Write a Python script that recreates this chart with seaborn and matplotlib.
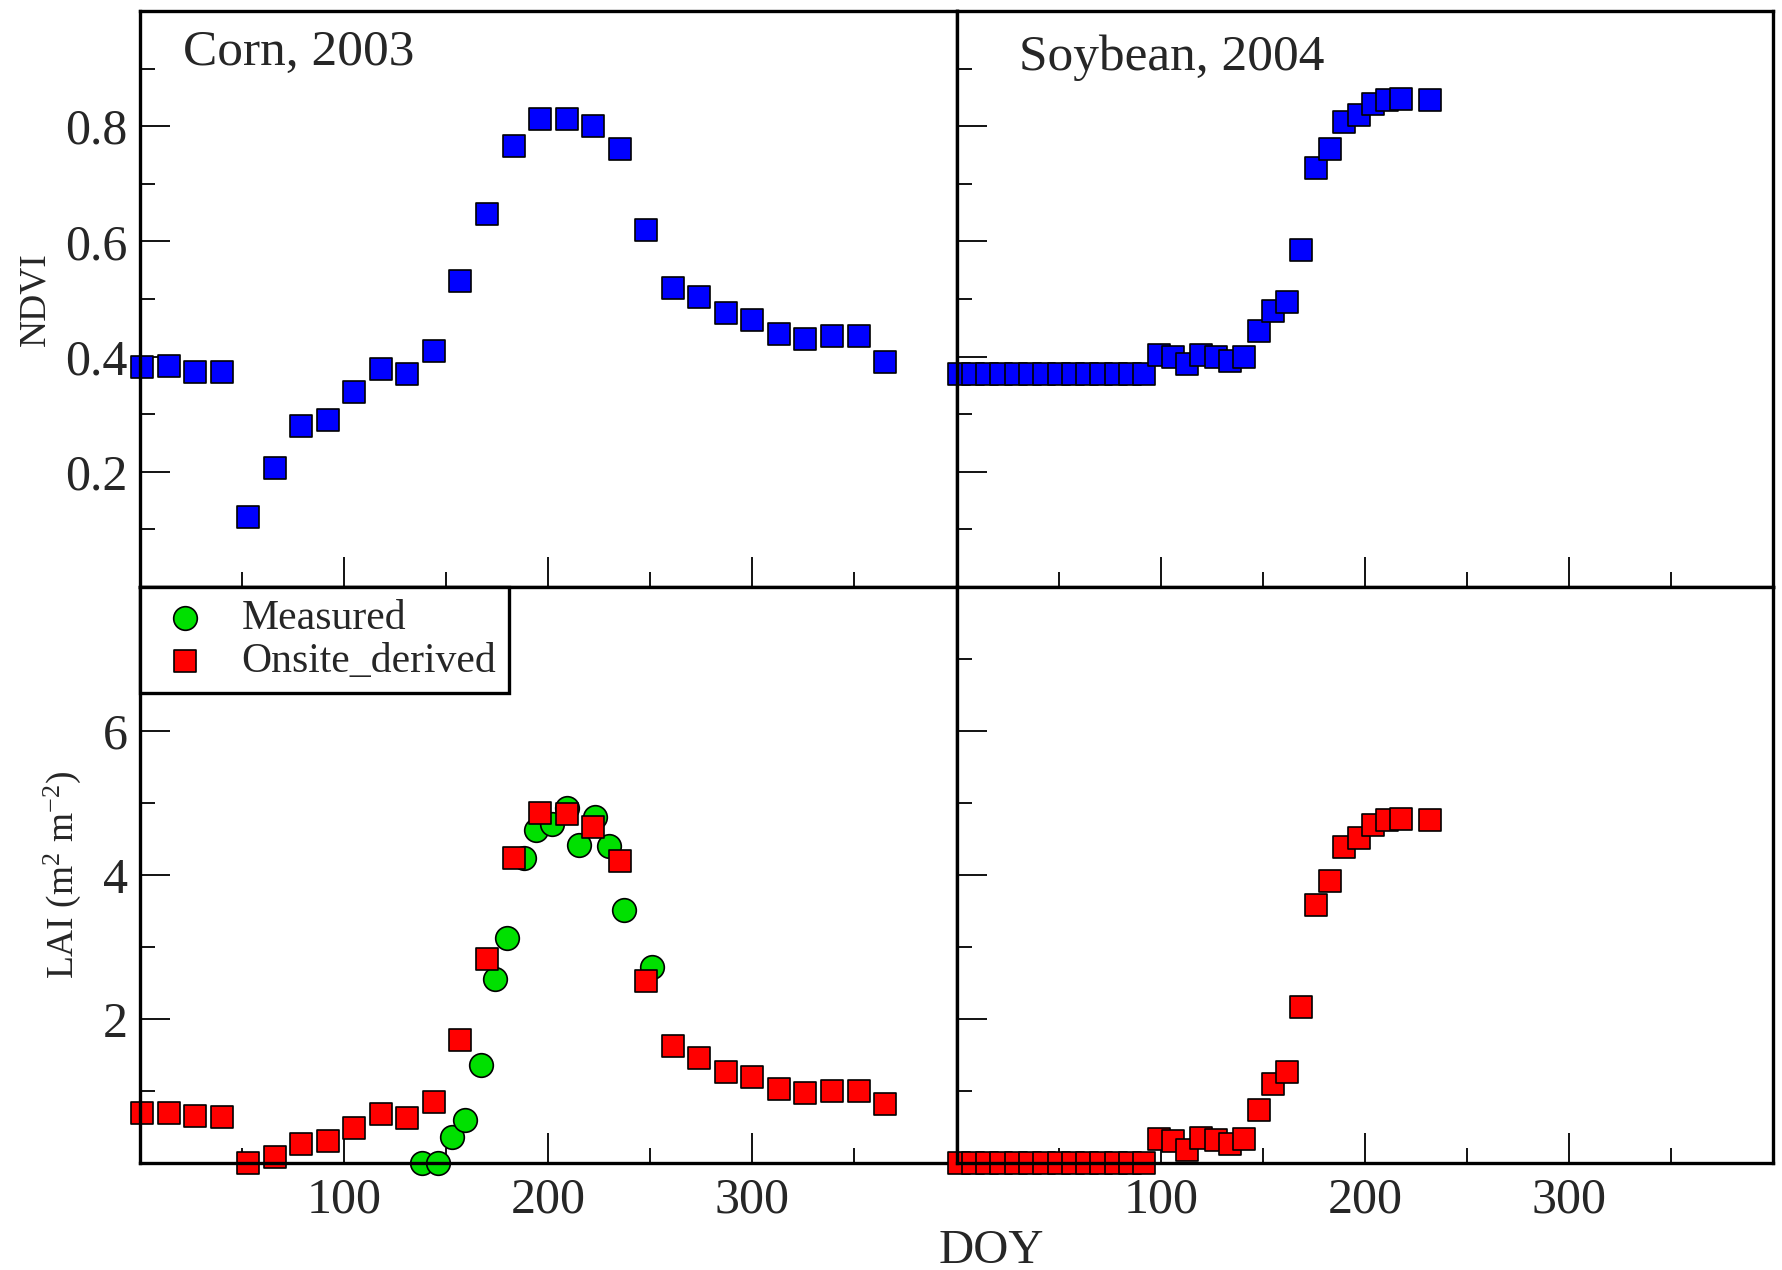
import matplotlib
matplotlib.use("Agg")
import matplotlib.pyplot as plt
import seaborn as sns
import pandas as pd
from matplotlib.ticker import FixedLocator

# ---------------- data ----------------
corn_doy = [1, 14, 27, 40, 53, 66, 79, 92, 105, 118, 131, 144, 157, 170, 183,
            196, 209, 222, 235, 248, 261, 274, 287, 300, 313, 326, 339, 352, 365]
corn_ndvi = [0.382, 0.383, 0.374, 0.374, 0.122, 0.206, 0.279, 0.290, 0.338, 0.378,
             0.369, 0.410, 0.532, 0.648, 0.766, 0.812, 0.812, 0.800, 0.761, 0.619,
             0.519, 0.503, 0.476, 0.464, 0.439, 0.431, 0.436, 0.436, 0.391]
corn_lai_derived = [0.70, 0.70, 0.65, 0.64, 0.00, 0.09, 0.26, 0.30, 0.48, 0.68,
                    0.62, 0.85, 1.71, 2.84, 4.24, 4.86, 4.85, 4.66, 4.19, 2.53,
                    1.62, 1.46, 1.27, 1.20, 1.03, 0.97, 1.00, 1.00, 0.82]
corn_meas_doy = [138, 146, 153, 159, 167, 174, 180, 188, 194, 202, 209, 215,
                 223, 230, 237, 251]
corn_lai_measured = [0.00, 0.00, 0.36, 0.60, 1.36, 2.56, 3.12, 4.24, 4.63, 4.71,
                     4.93, 4.41, 4.80, 4.40, 3.52, 2.72]

soy_doy = [1, 8, 15, 22, 29, 36, 43, 50, 57, 64, 71, 78, 85, 92, 99, 106, 113,
           120, 127, 134, 141, 148, 155, 162, 169, 176, 183, 190, 197, 204, 211,
           218, 232]
soy_ndvi = [0.37, 0.37, 0.37, 0.37, 0.37, 0.37, 0.37, 0.37, 0.37, 0.37, 0.37,
            0.37, 0.37, 0.37, 0.403, 0.400, 0.387, 0.403, 0.400, 0.393, 0.400,
            0.445, 0.480, 0.495, 0.585, 0.727, 0.760, 0.807, 0.820, 0.838, 0.846,
            0.848, 0.845]
soy_lai_derived = [0.0, 0.0, 0.0, 0.0, 0.0, 0.0, 0.0, 0.0, 0.0, 0.0, 0.0, 0.0,
                   0.0, 0.0, 0.34, 0.31, 0.18, 0.35, 0.32, 0.26, 0.33, 0.73, 1.10,
                   1.26, 2.17, 3.59, 3.91, 4.39, 4.51, 4.69, 4.77, 4.78, 4.76]

panel_titles = ["Corn, 2003", "Soybean, 2004"]
x_major = [100, 200, 300]
x_minor = [50, 150, 250, 350]
ndvi_major = [0.2, 0.4, 0.6, 0.8]
ndvi_minor = [0.1, 0.3, 0.5, 0.7, 0.9]
ndvi_labels = ["0.2", "0.4", "0.6", "0.8"]
lai_major = [2, 4, 6]
lai_minor = [1, 3, 5, 7]
lai_labels = ["2", "4", "6"]

# ---------------- style ----------------
sns.set_style("ticks")
plt.rcParams["font.family"] = ["Liberation Serif", "DejaVu Serif"]
plt.rcParams["mathtext.fontset"] = "custom"
plt.rcParams["mathtext.rm"] = "Liberation Serif"
plt.rcParams["mathtext.it"] = "Liberation Serif:italic"
plt.rcParams["axes.linewidth"] = 2.4
plt.rcParams["axes.edgecolor"] = "black"

BLUE = "#0000ff"
RED = "#ff0000"
GREEN = "#00e000"

fig, axes = plt.subplots(2, 2, figsize=(17.82, 12.70), dpi=100)
fig.subplots_adjust(left=140 / 1782, right=1773 / 1782, top=1 - 11 / 1270,
                    bottom=1 - 1163 / 1270, wspace=0, hspace=0)

corn_ndvi_df = pd.DataFrame({"DOY": corn_doy, "NDVI": corn_ndvi})
soy_ndvi_df = pd.DataFrame({"DOY": soy_doy, "NDVI": soy_ndvi})
corn_lai_df = pd.DataFrame({"DOY": corn_doy, "LAI": corn_lai_derived})
corn_meas_df = pd.DataFrame({"DOY": corn_meas_doy, "LAI": corn_lai_measured})
soy_lai_df = pd.DataFrame({"DOY": soy_doy, "LAI": soy_lai_derived})

SQ = 16.5 ** 2
CI = 17.0 ** 2
common = dict(edgecolor="black", linewidth=1.2, clip_on=False)

sns.scatterplot(data=corn_ndvi_df, x="DOY", y="NDVI", ax=axes[0, 0], marker="s",
                color=BLUE, s=SQ, legend=False, **common)
sns.scatterplot(data=soy_ndvi_df, x="DOY", y="NDVI", ax=axes[0, 1], marker="s",
                color=BLUE, s=SQ, legend=False, **common)
sns.scatterplot(data=corn_meas_df, x="DOY", y="LAI", ax=axes[1, 0], marker="o",
                color=GREEN, s=CI, label="Measured", **common)
sns.scatterplot(data=corn_lai_df, x="DOY", y="LAI", ax=axes[1, 0], marker="s",
                color=RED, s=SQ, label="Onsite_derived", **common)
sns.scatterplot(data=soy_lai_df, x="DOY", y="LAI", ax=axes[1, 1], marker="s",
                color=RED, s=SQ, legend=False, **common)

for r in range(2):
    for c in range(2):
        ax = axes[r, c]
        ax.set_xlim(0, 400)
        if r == 0:
            ax.set_ylim(0, 1)
            ax.yaxis.set_major_locator(FixedLocator(ndvi_major))
            ax.yaxis.set_minor_locator(FixedLocator(ndvi_minor))
        else:
            ax.set_ylim(0, 8)
            ax.yaxis.set_major_locator(FixedLocator(lai_major))
            ax.yaxis.set_minor_locator(FixedLocator(lai_minor))
        ax.xaxis.set_major_locator(FixedLocator(x_major))
        ax.xaxis.set_minor_locator(FixedLocator(x_minor))
        ax.tick_params(which="both", direction="in", top=False, right=False,
                       color="black", width=1.3, labelsize=36)
        ax.tick_params(which="major", length=21.6)
        ax.tick_params(which="minor", length=10.8)
        ax.tick_params(axis="x", pad=10)
        ax.tick_params(axis="y", pad=9)
        ax.set_xlabel("")
        ax.set_ylabel("")
        if r == 0:
            ax.tick_params(axis="x", labelbottom=False)
        if c == 1:
            ax.tick_params(axis="y", labelleft=False)
        for sp in ax.spines.values():
            sp.set_linewidth(2.4)
            sp.set_color("black")

axes[0, 0].set_yticklabels(ndvi_labels)
axes[1, 0].set_yticklabels(lai_labels)

axes[0, 0].set_ylabel("NDVI", fontsize=27, labelpad=9)
axes[1, 0].set_ylabel(r"LAI (m$^{2}$ m$^{-2}$)", fontsize=27, labelpad=14)

axes[0, 0].text(0.0526, 0.906, panel_titles[0], transform=axes[0, 0].transAxes,
                fontsize=37, ha="left", va="baseline")
axes[0, 1].text(0.076, 0.897, panel_titles[1], transform=axes[0, 1].transAxes,
                fontsize=37, ha="left", va="baseline")

fig.text(991 / 1782, 1 - 1263 / 1270, "DOY", fontsize=35, ha="center", va="baseline")

leg = axes[1, 0].legend(loc="upper left", bbox_to_anchor=(0, 1), borderaxespad=0,
                        fontsize=30, frameon=True, fancybox=False, framealpha=1,
                        edgecolor="black", borderpad=0.29, labelspacing=0.12,
                        handlelength=1.58, handletextpad=0.57)
leg.get_frame().set_linewidth(2.4)

fig.savefig("out.png", dpi=100)
